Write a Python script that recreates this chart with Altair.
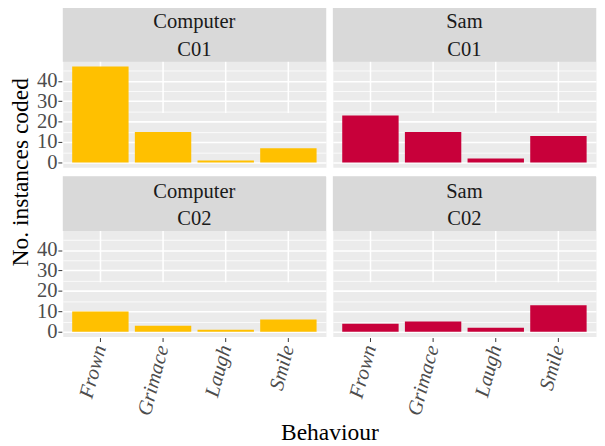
import altair as alt
import pandas as pd

speakers = ["Computer", "Sam"]
sessions = ["C01", "C02"]
behaviours = ["Frown", "Grimace", "Laugh", "Smile"]
computer_c01 = [47, 15, 1, 7]
sam_c01 = [23, 15, 2, 13]
computer_c02 = [10, 3, 1, 6]
sam_c02 = [4, 5, 2, 13]
bar_colors = ["#FFC000", "#C8003A"]
y_ticks = [0, 5, 10, 15, 20, 25, 30, 35, 40, 45]

rows = []
for spk, ses, vals in [
    ("Computer", "C01", computer_c01),
    ("Sam", "C01", sam_c01),
    ("Computer", "C02", computer_c02),
    ("Sam", "C02", sam_c02),
]:
    for b, v in zip(behaviours, vals):
        rows.append(dict(speaker=spk, session=ses, behaviour=b, count=v))
df = pd.DataFrame(rows)

W, H, STRIP = 269, 164, 56
SERIF = "Liberation Serif"

x = alt.X(
    "behaviour:N", sort=behaviours, title=None,
    scale=alt.Scale(paddingInner=0.1, paddingOuter=0.15),
    axis=alt.Axis(
        labelAngle=285, labelAlign="right", labelBaseline="middle",
        labelFont=SERIF, labelFontStyle="italic", labelFontSize=21,
        labelColor="#4D4D4D", tickColor="#333333", tickSize=4, tickWidth=1,
        domain=False, grid=True, gridColor="white", gridWidth=1.6,
        bandPosition=0.5, labelPadding=4, labelOverlap=False,
    ),
)
y = alt.Y(
    "count:Q", title=None,
    scale=alt.Scale(domain=[-2.35, 49.35], range=[H, STRIP], nice=False, zero=False),
    axis=alt.Axis(
        values=y_ticks,
        labelExpr="datum.value % 10 == 0 ? datum.label : ''",
        labelFont=SERIF, labelFontSize=21, labelColor="#4D4D4D",
        labelOverlap=False, labelFlush=False,
        tickColor="#333333", tickSize=4, tickWidth=1,
        tickOpacity={"condition": {"test": "datum.value % 10 != 0", "value": 0}, "value": 1},
        domain=False, grid=True, gridColor="white",
        gridWidth={"condition": {"test": "datum.value % 10 != 0", "value": 0.8}, "value": 1.6},
        labelPadding=1,
    ),
)

bars = alt.Chart().mark_bar().encode(
    x=x, y=y,
    color=alt.Color("speaker:N", scale=alt.Scale(domain=speakers, range=bar_colors), legend=None),
)
strip_bg = alt.Chart().mark_rect(color="#D9D9D9").encode(
    x=alt.value(0), x2=alt.value(W), y=alt.value(0), y2=alt.value(STRIP)
).transform_filter(alt.datum.behaviour == "Frown")
strip_top = alt.Chart().mark_text(
    font=SERIF, fontSize=21, color="#1A1A1A", baseline="alphabetic", align="center",
).encode(
    x=alt.value(W / 2), y=alt.value(22), text="speaker:N"
).transform_filter(alt.datum.behaviour == "Frown")
strip_bot = alt.Chart().mark_text(
    font=SERIF, fontSize=21, color="#1A1A1A", baseline="alphabetic", align="center",
).encode(
    x=alt.value(W / 2), y=alt.value(50), text="session:N"
).transform_filter(alt.datum.behaviour == "Frown")

chart = alt.layer(bars, strip_bg, strip_top, strip_bot, data=df).properties(
    width=W, height=H
).facet(
    row=alt.Row("session:N", sort=sessions, header=alt.Header(
        labels=False, title="No. instances coded", titleOrient="left",
        titleFont=SERIF, titleFontSize=24, titleColor="black", titleFontWeight="normal",
        titlePadding=-6)),
    column=alt.Column("speaker:N", sort=speakers, header=alt.Header(
        labels=False, title="Behaviour", titleOrient="bottom",
        titleFont=SERIF, titleFontSize=24, titleColor="black", titleFontWeight="normal",
        titlePadding=-6)),
    spacing={"row": 7, "column": 5},
).properties(
    padding={"top": -7, "left": 0, "right": 0, "bottom": 0}
).configure_view(fill="#EBEBEB", stroke="transparent")

chart.save("out.html", embed_options={"renderer": "svg", "actions": False})
